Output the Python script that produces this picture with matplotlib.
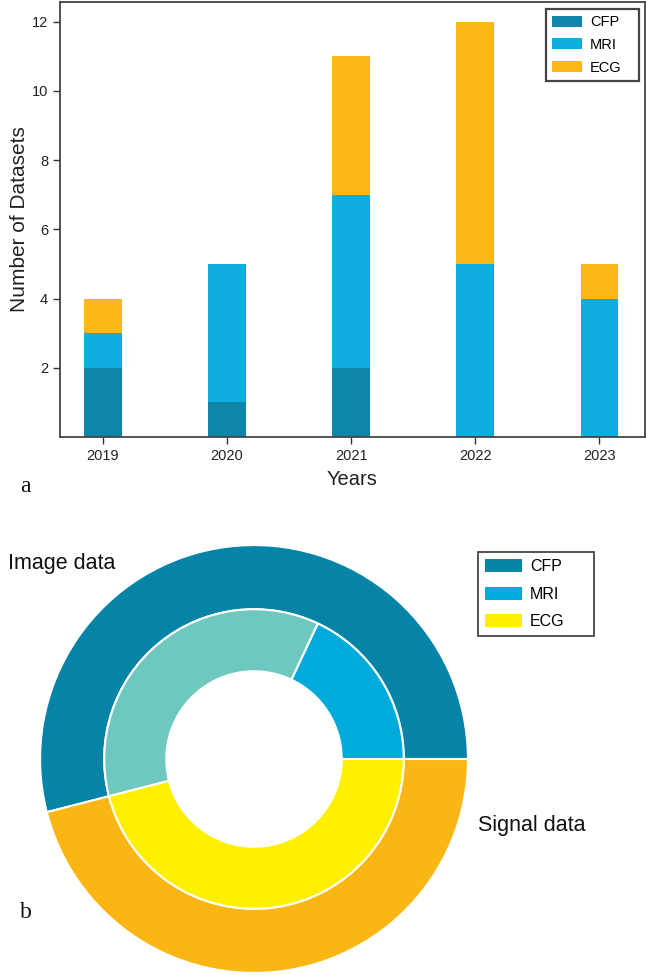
import matplotlib
matplotlib.use("Agg")
import matplotlib.pyplot as plt
from matplotlib.patches import Patch
import numpy as np

# ---- data ----
years = ["2019", "2020", "2021", "2022", "2023"]
cfp = [2, 1, 2, 0, 0]
mri = [1, 4, 5, 5, 4]
ecg = [1, 0, 4, 7, 1]
series_names = ["CFP", "MRI", "ECG"]
y_ticks = [2, 4, 6, 8, 10, 12]

outer_labels = ["Image data", "Signal data"]
outer_values = [54, 46]
inner_names = ["MRI", "CFP", "ECG"]
inner_values = [18, 36, 46]

# ---- styles ----
bar_colors = ["#0f86a9", "#0daddd", "#fdb718"]
outer_colors = ["#0684a8", "#fbb614"]
inner_colors = ["#00abdb", "#6fc8bf", "#fff000"]
pie_legend_colors = ["#0684a8", "#00abdb", "#fff000"]

plt.rcParams['font.family'] = ['Liberation Sans', 'DejaVu Sans']

W, H = 646, 975
fig = plt.figure(figsize=(W / 100, H / 100), dpi=100)
fig.patch.set_facecolor("white")

def fx(px):
    return px / W

def fy(py):
    return 1 - py / H

# ---- bar chart ----
ax = fig.add_axes([fx(60), fy(437), fx(645) - fx(60), fy(2) - fy(437)])
x = np.arange(len(years))
bw = 0.305
cfp_a = np.array(cfp)
mri_a = np.array(mri)
ecg_a = np.array(ecg)
ax.bar(x, cfp_a, bw, color=bar_colors[0], label=series_names[0])
ax.bar(x, mri_a, bw, bottom=cfp_a, color=bar_colors[1], label=series_names[1])
ax.bar(x, ecg_a, bw, bottom=cfp_a + mri_a, color=bar_colors[2], label=series_names[2])
ax.set_xlim(-0.346, 4.367)
ax.set_ylim(0, 12.57)
ax.set_xticks(x)
ax.set_xticklabels(years)
ax.set_yticks(y_ticks)
ax.tick_params(axis='both', labelsize=10.5, length=5, width=1, color="#333333",
               direction='out', labelcolor="#222222")
for s in ax.spines.values():
    s.set_color("#444444")
    s.set_linewidth(1.3)
ax.set_ylabel("Number of Datasets", fontsize=15, labelpad=2, color="#222222")
ax.set_xlabel("Years", fontsize=14.5, labelpad=5, color="#222222")
leg = ax.legend(loc="upper left",
                bbox_to_anchor=(fx(546), fy(77), fx(639) - fx(546), fy(9) - fy(77)),
                bbox_transform=fig.transFigure, mode="expand", borderaxespad=0,
                fontsize=10.5,
                handlelength=2.05, handleheight=0.78, labelspacing=0.6,
                handletextpad=0.55, borderpad=0.42, fancybox=False,
                edgecolor="#444444", framealpha=1)
leg.get_frame().set_linewidth(1.6)

fig.text(fx(20), fy(487), "a", fontsize=17, family=['Liberation Serif', 'DejaVu Serif'],
         va='center', ha='left', color="#111111")

# ---- donut chart ----
cx, cy, R = 254, 759, 215
ax2 = fig.add_axes([fx(cx - R), fy(cy + R), 2 * R / W, 2 * R / H])
ax2.axis('off')
ax2.pie(outer_values, radius=1.0, colors=outer_colors, startangle=0,
        wedgeprops=dict(width=0.30, edgecolor="white", linewidth=1.5))
ax2.pie(inner_values, radius=0.70, colors=inner_colors, startangle=0,
        wedgeprops=dict(width=0.29, edgecolor="white", linewidth=1.5))
ax2.set_xlim(-1.005, 1.005)
ax2.set_ylim(-1.005, 1.005)
ax2.set_aspect('auto')

fig.text(fx(8), fy(563), outer_labels[0], fontsize=15.5, va='center', ha='left', color="#111111")
fig.text(fx(478), fy(826), outer_labels[1], fontsize=15.5, va='center', ha='left', color="#111111")

handles = [Patch(facecolor=c, edgecolor='none') for c in pie_legend_colors]
leg2 = fig.legend(handles, ["CFP", "MRI", "ECG"], loc="upper left",
                  bbox_to_anchor=(fx(478), fy(635), fx(594) - fx(478), fy(552) - fy(635)),
                  mode="expand", borderaxespad=0, fontsize=11.5,
                  handlelength=2.3, handleheight=0.875, labelspacing=0.78,
                  handletextpad=0.5, borderpad=0.45, fancybox=False,
                  edgecolor="#444444", framealpha=1)
leg2.get_frame().set_linewidth(1.3)

fig.text(fx(20), fy(912), "b", fontsize=17, family=['Liberation Serif', 'DejaVu Serif'],
         va='center', ha='left', color="#111111")

fig.savefig("out.png", dpi=100, facecolor="white")
